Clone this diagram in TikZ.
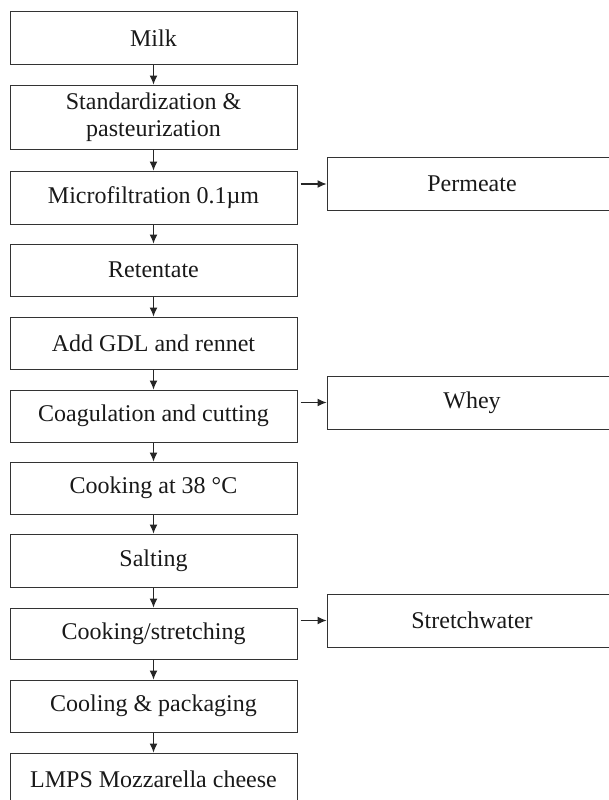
\documentclass[tikz,border=0pt]{standalone}
\usepackage{fontspec}
\setmainfont{Liberation Serif}
\usetikzlibrary{arrows.meta}
\begin{document}
\begin{tikzpicture}[x=1pt,y=-1pt,
  box/.style={draw=black!80,line width=1pt,minimum width=287pt,inner sep=0pt,align=center,
    font=\fontsize{24}{27}\selectfont,text=black!90},
  side/.style={box,minimum width=290pt,minimum height=53pt},
  arr/.style={draw=black!85,line width=1.1pt,-{Latex[length=9pt,width=8pt]}}]
\useasboundingbox (0,0) rectangle (609,800);
\node[box,minimum height=53pt] (milk) at (153.5,38.5) {Milk};
\node[box,minimum height=64pt] (std) at (153.5,117) {Standardization \&\\pasteurization};
\node[box,minimum height=53pt] (micro) at (153.5,197.5) {Microfiltration 0.1µm};
\node[box,minimum height=52pt] (ret) at (153.5,270) {Retentate};
\node[box,minimum height=52pt] (gdl) at (153.5,343) {Add GDL and rennet};
\node[box,minimum height=52pt] (coag) at (153.5,416) {Coagulation and cutting};
\node[box,minimum height=52pt] (cook) at (153.5,488) {Cooking at 38 °C};
\node[box,minimum height=53pt] (salt) at (153.5,560.5) {Salting};
\node[box,minimum height=51pt] (stretch) at (153.5,633.5) {Cooking/stretching};
\node[box,minimum height=52pt] (cool) at (153.5,706) {Cooling \& packaging};
\node[box,minimum height=53pt] (lmps) at (153.5,779.5) {LMPS Mozzarella cheese};
\node[side] (perm) at (472,184) {Permeate};
\node[side] (whey) at (472,402.5) {Whey};
\node[side] (sw) at (472,620.5) {Stretchwater};
\foreach \a/\b in {milk/std,std/micro,micro/ret,ret/gdl,gdl/coag,coag/cook,cook/salt,salt/stretch,stretch/cool,cool/lmps}
  \draw[arr] (\a.south) -- (\b.north);
\draw[arr] ([xshift=3pt]micro.east |- perm.west) -- (perm.west);
\draw[arr] ([xshift=3pt]coag.east |- whey.west) -- (whey.west);
\draw[arr] ([xshift=3pt]stretch.east |- sw.west) -- (sw.west);
\end{tikzpicture}
\end{document}
